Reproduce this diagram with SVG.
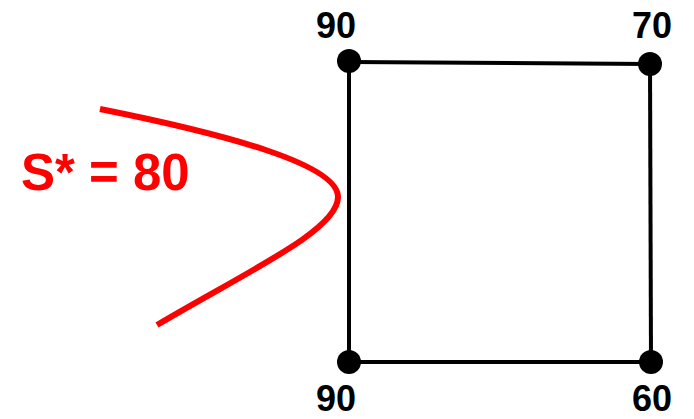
<svg xmlns="http://www.w3.org/2000/svg" width="694" height="419" viewBox="0 0 694 419">
<style>
.lbl{font-family:"Liberation Sans",Arial,sans-serif;font-weight:bold;font-size:36px;fill:#000;text-anchor:middle}
.edge{stroke:#000;stroke-width:4;fill:none}
.dot{fill:#000}
.red{font-family:"Liberation Sans",Arial,sans-serif;font-weight:bold;font-size:51px;fill:#ff0000}
</style>
<rect width="694" height="419" fill="#fff"/>
<g id="connectors">
<line class="edge" x1="349" y1="62" x2="650" y2="64"/>
<line class="edge" x1="650" y1="64" x2="651" y2="362"/>
<line class="edge" x1="651" y1="362" x2="349" y2="362"/>
<line class="edge" x1="349" y1="362" x2="349" y2="62"/>
</g>
<g id="node-tl"><circle class="dot" cx="349" cy="61" r="12"/><text class="lbl" x="336" y="38">90</text></g>
<g id="node-tr"><circle class="dot" cx="650" cy="64" r="12"/><text class="lbl" x="652" y="38">70</text></g>
<g id="node-bl"><circle class="dot" cx="349" cy="362" r="12"/><text class="lbl" x="336" y="411">90</text></g>
<g id="node-br"><circle class="dot" cx="651" cy="362" r="12"/><text class="lbl" x="652" y="411">60</text></g>
<g id="cut">
<path d="M100,109 C230,135 338,165 338,197 C338,230 250,270 157,325" stroke="#ff0000" stroke-width="6" fill="none"/>
<text class="red" x="21" y="190">S* = 80</text>
</g>
</svg>
